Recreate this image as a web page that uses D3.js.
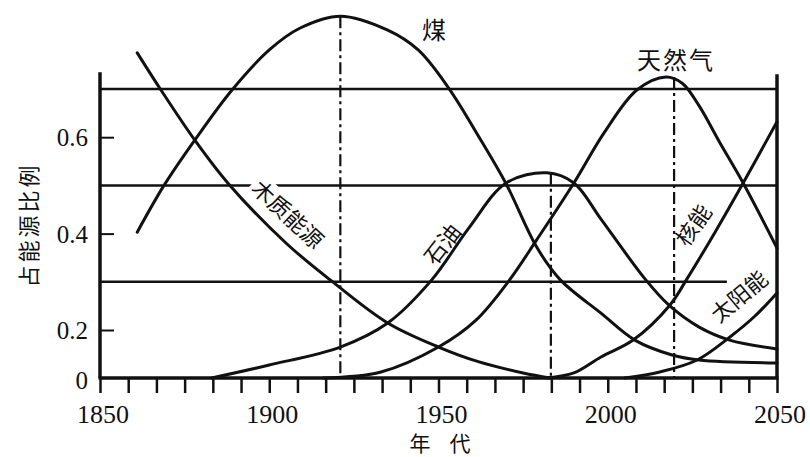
<!DOCTYPE html>
<html><head><meta charset="utf-8">
<script src="https://cdn.jsdelivr.net/npm/d3@7"></script>
<style>body{margin:0;background:#fff}svg{display:block}</style>
</head><body>
<svg id="c" width="810" height="457"></svg>
<script>
// ---- data (year, share of energy) ----
const coal = [[1861,0.403],[1869,0.501],[1878,0.594],[1889,0.698],[1900,0.781],[1909,0.826],[1921,0.851],[1935,0.822],[1944,0.781],[1953,0.702],[1962,0.600],[1970,0.503],[1979,0.372],[1986,0.304],[1998,0.235],[2008,0.158],[2019,0.096],[2027,0.075],[2050,0.0625]];
const wood = [[1861,0.775],[1868,0.698],[1878,0.594],[1888,0.503],[1905,0.380],[1918,0.304],[1935,0.2145],[1950,0.129],[1962,0.067],[1975,0.021],[1983,0.0]];
const oil = [[1883,0],[1900,0.054],[1921,0.129],[1935,0.2145],[1948,0.304],[1959,0.412],[1970,0.505],[1982,0.526],[1990,0.505],[1998,0.430],[2011,0.306],[2018,0.252],[2027,0.206],[2036,0.158],[2050,0.121]];
const gas = [[1916,0],[1933,0.025],[1950,0.129],[1961,0.22],[1971,0.304],[1979,0.387],[1990,0.505],[1999,0.610],[2008.6,0.698],[2017.2,0.725],[2022,0.712],[2027,0.665],[2033,0.590],[2040,0.505],[2050,0.370]];
const nuclear = [[1982,0],[1990,0.021],[1998,0.0875],[2007.5,0.158],[2018.4,0.252],[2023.4,0.306],[2031.7,0.403],[2040,0.505],[2050,0.632]];
const solar = [[2005,0],[2015.4,0.025],[2026.4,0.075],[2036.1,0.171],[2043.5,0.229],[2050,0.277]];
const seriesNames = ["煤","木质能源","石油","天然气","核能","太阳能"];
const refLevels = [0.7, 0.5, 0.3];
const refEnds = [2050, 2050, 2035.2];
const peakYears = [1921, 1983.2, 2019.6];
const peakValues = [0.851, 0.526, 0.725];
const yTicks = [0, 0.2, 0.4, 0.6];
const yTickLabels = ["0","0.2","0.4","0.6"];
const xLabelYears = [1850, 1900, 1950, 2000, 2050];
const axisTop = 0.735;
const xTitle = ["年","代"];
const yTitle = "占能源比例";

// ---- scales ----
const svg = d3.select("#c");
const x = d3.scaleLinear().domain([1850, 2050]).range([100, 777]);
const y = d3.scaleLinear().domain([0, 0.2, 0.7]).range([378, 330, 89]);

const ink = "#111";
const line = d3.line().x(d => x(d[0])).y(d => Math.min(y(0), y(d[1]))).curve(d3.curveCatmullRom.alpha(0.5));

// reference horizontal lines
svg.append("g").selectAll("line").data(refLevels).join("line")
  .attr("x1", x(1850)).attr("x2", (d,i) => x(refEnds[i]))
  .attr("y1", d => y(d)).attr("y2", d => y(d))
  .attr("stroke", ink).attr("stroke-width", 2.5);

// white patch behind wood label (cuts 0.5 line)
const woodLab = {cx: 289, cy: 213, a: 43, w: 94, h: 24};
svg.append("rect").attr("x", -woodLab.w/2).attr("y", -woodLab.h/2)
  .attr("width", woodLab.w).attr("height", woodLab.h).attr("fill", "#fff")
  .attr("transform", `translate(${woodLab.cx},${woodLab.cy}) rotate(${woodLab.a})`);

// peak dash-dot lines
svg.append("g").selectAll("line").data(peakYears).join("line")
  .attr("x1", d => x(d)).attr("x2", d => x(d))
  .attr("y1", (d,i) => y(peakValues[i])).attr("y2", y(0))
  .attr("stroke", ink).attr("stroke-width", 2.2)
  .attr("stroke-dasharray", "12,4,3,4");

// curves
const allSeries = [coal, wood, oil, gas, nuclear, solar];
svg.append("g").selectAll("path").data(allSeries).join("path")
  .attr("d", line).attr("fill", "none").attr("stroke", ink)
  .attr("stroke-width", 3).attr("stroke-linecap", "round");

// axes
const xAxis = d3.axisBottom(x).tickValues(d3.range(0, 25).map(i => 1850 + i * 200 / 24))
  .tickSize(15).tickFormat("");
const gx = svg.append("g").attr("transform", `translate(0,${y(0)})`).call(xAxis);
gx.select(".domain").remove();
gx.selectAll("line").attr("stroke", ink).attr("stroke-width", 2.5);
svg.append("line").attr("x1", x(1850)-1.5).attr("x2", x(2050)+1.5).attr("y1", y(0)).attr("y2", y(0))
  .attr("stroke", ink).attr("stroke-width", 3.5);

svg.append("g").selectAll("text").data(xLabelYears).join("text")
  .attr("x", d => x(d) + 3).attr("y", 423).attr("text-anchor", "middle")
  .attr("font-family", "Liberation Serif").attr("font-size", 26).attr("fill", ink)
  .text(d => d);

const yAxis = d3.axisRight(y).tickValues(yTicks.slice(1)).tickSize(14).tickFormat("");
const gy = svg.append("g").attr("transform", `translate(${x(1850)},0)`).call(yAxis);
gy.select(".domain").remove();
gy.selectAll("line").attr("stroke", ink).attr("stroke-width", 2);
svg.append("line").attr("x1", x(1850)).attr("x2", x(1850)).attr("y1", y(axisTop)).attr("y2", y(0))
  .attr("stroke", ink).attr("stroke-width", 3.5);
svg.append("line").attr("x1", x(2050)).attr("x2", x(2050)).attr("y1", y(axisTop)+2).attr("y2", y(0))
  .attr("stroke", ink).attr("stroke-width", 3.5);

svg.append("g").selectAll("text").data(yTicks).join("text")
  .attr("x", 88).attr("y", (d,i) => y(d) + (i === 0 ? 11 : 9)).attr("text-anchor", "end")
  .attr("font-family", "Liberation Serif").attr("font-size", 25).attr("fill", ink)
  .text((d,i) => yTickLabels[i]);

// axis titles
svg.append("g").selectAll("text").data(xTitle).join("text")
  .attr("x", (d,i) => 420 + i * 40).attr("y", 442).attr("text-anchor", "middle")
  .attr("dominant-baseline", "central")
  .attr("font-family", "Noto Sans CJK SC").attr("font-size", 21).attr("fill", ink)
  .text(d => d);
svg.append("text").attr("transform", "translate(27,225) rotate(-90)").attr("text-anchor", "middle")
  .attr("dominant-baseline", "central")
  .attr("font-family", "Noto Sans CJK SC").attr("font-size", 22).attr("letter-spacing", 3).attr("fill", ink)
  .text(yTitle);

// series labels
const labelPos = [
  {cx: 434, cy: 28, a: 0, s: 24},
  {cx: woodLab.cx, cy: woodLab.cy, a: woodLab.a, s: 22},
  {cx: 441, cy: 243, a: -52, s: 22},
  {cx: 676, cy: 58, a: 0, s: 24},
  {cx: 692, cy: 224, a: -55, s: 22},
  {cx: 738, cy: 295, a: -40, s: 22}
];
svg.append("g").selectAll("text").data(seriesNames).join("text")
  .attr("transform", (d,i) => `translate(${labelPos[i].cx},${labelPos[i].cy}) rotate(${labelPos[i].a})`)
  .attr("text-anchor", "middle").attr("dominant-baseline", "central")
  .attr("font-family", "Noto Sans CJK SC").attr("font-size", (d,i) => labelPos[i].s)
  .attr("letter-spacing", (d,i) => i === 3 ? 2 : 0)
  .attr("fill", ink).text(d => d);
</script>
</body></html>
